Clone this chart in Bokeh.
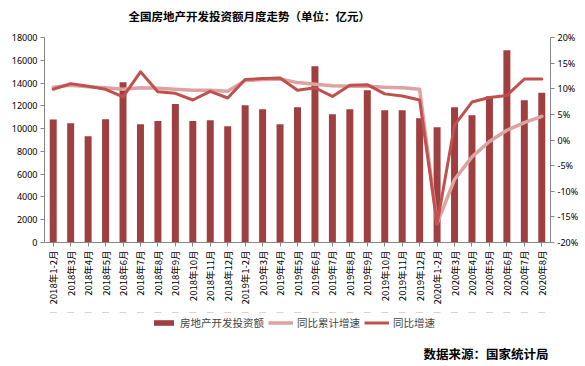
import math
from bokeh.plotting import figure
from bokeh.layouts import column
from bokeh.models import (FactorRange, Range1d, LinearAxis, SingleIntervalTicker,
                          PrintfTickFormatter, Legend, LegendItem, Label, ColumnDataSource)
from bokeh.embed import file_html
from bokeh.resources import INLINE

months = ["2018年1-2月", "2018年3月", "2018年4月", "2018年5月", "2018年6月", "2018年7月",
          "2018年8月", "2018年9月", "2018年10月", "2018年11月", "2018年12月",
          "2019年1-2月", "2019年3月", "2019年4月", "2019年5月", "2019年6月", "2019年7月",
          "2019年8月", "2019年9月", "2019年10月", "2019年11月", "2019年12月",
          "2020年1-2月", "2020年3月", "2020年4月", "2020年5月", "2020年6月", "2020年7月",
          "2020年8月"]
investment = [10800, 10470, 9330, 10820, 14080, 10380, 10670, 12170, 10670, 10730, 10200,
              12050, 11700, 10380, 11880, 15480, 11260, 11700, 13370, 11610, 11610, 10910,
              10120, 11880, 11170, 12840, 16890, 12490, 13140]
cum_growth = [10.3, 10.7, 10.4, 10.2, 9.9, 10.2, 10.1, 9.9, 9.7, 9.7, 9.5,
              11.6, 11.8, 11.9, 11.2, 10.9, 10.6, 10.5, 10.5, 10.3, 10.2, 9.9,
              -16.3, -7.7, -3.3, -0.3, 1.9, 3.4, 4.6]
yoy_growth = [9.9, 11.0, 10.5, 9.9, 8.4, 13.3, 9.4, 9.1, 7.8, 9.5, 8.2,
              11.8, 12.0, 12.1, 9.7, 10.2, 8.5, 10.7, 10.8, 9.0, 8.6, 7.8,
              -16.4, 2.9, 7.4, 8.3, 8.7, 11.9, 11.9]
left_ticks_interval = 2000
right_ticks_interval = 5
series_names = ["房地产开发投资额", "同比累计增速", "同比增速"]
title_text = "全国房地产开发投资额月度走势（单位：亿元）"
source_text = "数据来源：国家统计局"

BAR = "#9F3F3F"
CUM = "#DCA3A2"
YOY = "#C0504D"
AXIS = "#868686"
NUM_FONT = "Noto Sans"
CJK = "Noto Sans CJK SC"
W = 585

src = ColumnDataSource(dict(month=months, inv=investment, cum=cum_growth, yoy=yoy_growth))


def blank(height, y_range):
    f = figure(width=W, height=height, x_range=FactorRange(factors=months), y_range=y_range,
               output_backend="svg", toolbar_location=None,
               x_axis_location=None, y_axis_location=None, min_border=0)
    f.outline_line_color = None
    f.xgrid.visible = False
    f.ygrid.visible = False
    return f


# ---------- header (title) ----------
header = blank(29, Range1d(0, 1))
header.add_layout(Label(x=84, y=14, x_units="screen", y_units="screen", text=title_text,
                        text_font=CJK, text_font_size="11.5px", text_font_style="bold",
                        text_align="left", text_baseline="middle", text_color="#000000"))

# ---------- main chart ----------
p = figure(width=W, height=283, x_range=FactorRange(factors=months),
           y_range=Range1d(0, 18000), output_backend="svg", toolbar_location=None,
           min_border_left=44, min_border_right=35, min_border_top=8, min_border_bottom=70)
p.extra_y_ranges = {"pct": Range1d(-20, 20)}
p.outline_line_color = None
p.xgrid.visible = False
p.ygrid.visible = False

p.vbar(x="month", top="inv", width=0.4, source=src, fill_color=BAR, line_color=None)
p.line(x="month", y="cum", source=src, y_range_name="pct", line_color=CUM,
       line_width=3.5, line_join="round", line_cap="round")
p.line(x="month", y="yoy", source=src, y_range_name="pct", line_color=YOY,
       line_width=3, line_join="round", line_cap="round")

ya = p.yaxis[0]
ya.ticker = SingleIntervalTicker(interval=left_ticks_interval, num_minor_ticks=0)
ra = LinearAxis(y_range_name="pct",
                ticker=SingleIntervalTicker(interval=right_ticks_interval, num_minor_ticks=0),
                formatter=PrintfTickFormatter(format="%d%%"))
p.add_layout(ra, "right")

for ax in (ya, ra):
    ax.axis_line_color = AXIS
    ax.major_tick_line_color = AXIS
    ax.minor_tick_line_color = None
    ax.major_tick_in = 0
    ax.major_tick_out = 4
    ax.major_label_standoff = 3
    ax.major_label_text_font = NUM_FONT
    ax.major_label_text_font_size = "9px"
    ax.major_label_text_color = "#000000"

xa = p.xaxis[0]
xa.axis_line_color = AXIS
xa.major_tick_line_color = AXIS
xa.major_tick_in = 0
xa.major_tick_out = 4
xa.major_label_orientation = math.pi / 2
xa.major_label_standoff = 4
xa.major_label_text_font = CJK
xa.major_label_text_font_size = "9.5px"
xa.major_label_text_color = "#000000"

# ---------- footer (legend + source) ----------
# legend keys reuse the same data, drawn into a range where nothing is in view
footer = blank(54, Range1d(-200, -100))
k_bar = footer.vbar(x="month", top="inv", width=0.4, source=src, fill_color=BAR, line_color=None)
k_cum = footer.line(x="month", y="cum", source=src, line_color=CUM, line_width=3.5)
k_yoy = footer.line(x="month", y="yoy", source=src, line_color=YOY, line_width=3)
legend = Legend(items=[LegendItem(label=series_names[0], renderers=[k_bar]),
                       LegendItem(label=series_names[1], renderers=[k_cum]),
                       LegendItem(label=series_names[2], renderers=[k_yoy])],
                orientation="horizontal", location=(107, 36),
                label_text_font=CJK, label_text_font_size="10.5px",
                glyph_width=25, glyph_height=7, label_height=12, label_width=0,
                label_standoff=4, spacing=4, padding=0, margin=0,
                border_line_color=None, background_fill_alpha=0)
footer.add_layout(legend, "center")
footer.add_layout(Label(x=504, y=13, x_units="screen", y_units="screen", text=source_text,
                        text_font=CJK, text_font_size="12.5px", text_font_style="bold",
                        text_align="right", text_baseline="middle", text_color="#000000"))

layout = column(header, p, footer, spacing=0)
open("out.html", "w").write(file_html(layout, INLINE))
